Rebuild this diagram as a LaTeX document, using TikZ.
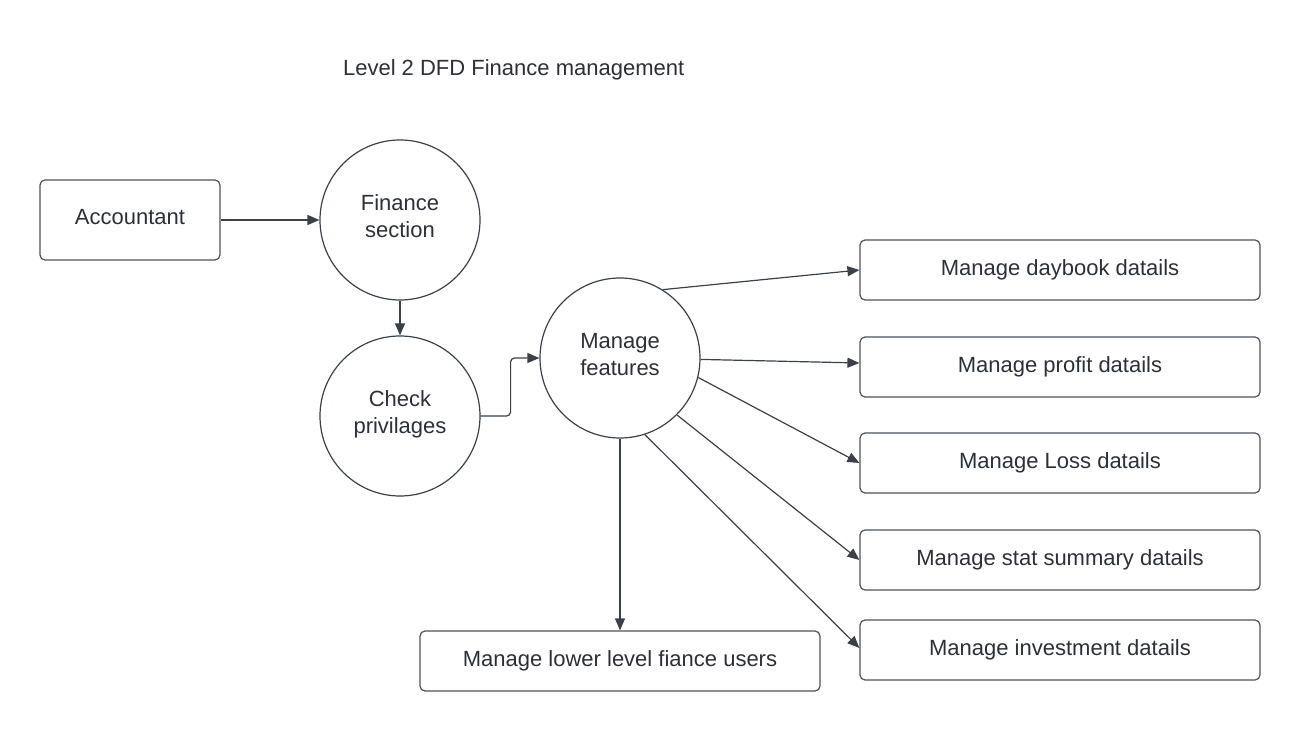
\documentclass[tikz,border=0pt]{standalone}
\usepackage{fontspec}
\setmainfont{Liberation Sans}
\usetikzlibrary{arrows.meta}
\definecolor{txt}{HTML}{2B3039}
\definecolor{ln}{HTML}{3A414A}
\definecolor{bx}{HTML}{4E535B}
\tikzset{
  lbl/.style={text=txt,font=\fontsize{11}{13.5}\selectfont,align=center},
  box/.style={lbl,draw=bx,line width=0.6pt,rounded corners=2.5pt,inner sep=0pt},
  smallbox/.style={box,minimum width=90pt,minimum height=40pt,text depth=3pt},
  widebox/.style={box,minimum width=200pt,minimum height=30pt},
  proc/.style={lbl,draw=ln,line width=0.6pt,circle,minimum size=80pt,inner sep=0pt,text depth=3.5pt},
  flow/.style={draw=ln,line width=0.6pt,-{Triangle[length=6pt,width=5pt]}}
}
\begin{document}
\begin{tikzpicture}[x=0.5pt,y=-0.5pt]
\fill[white] (0,0) rectangle (1300,731);
\useasboundingbox (0,0) rectangle (1300,731);
\node[lbl,anchor=west] (title) at (336,70) {Level 2 DFD Finance management};
\node[smallbox] (acc) at (130,220) {Accountant};
\node[proc] (fs) at (400,220) {Finance\\section};
\node[proc] (cp) at (400,416) {Check\\privilages};
\node[proc] (mf) at (620,358) {Manage\\features};
\node[widebox] (d1) at (1060,270) {Manage daybook datails};
\node[widebox] (d2) at (1060,367) {Manage profit datails};
\node[widebox] (d3) at (1060,463) {Manage Loss datails};
\node[widebox] (d4) at (1060,560) {Manage stat summary datails};
\node[widebox] (d5) at (1060,650) {Manage investment datails};
\node[widebox] (lo) at (620,661) {Manage lower level fiance users};
\draw[flow] (acc.east) -- (fs.west);
\draw[flow] (fs.south) -- (cp.north);
\draw[flow,rounded corners=2pt] (cp.east) -- ++(30,0) |- (mf.west);
\draw[flow] (mf.58) -- (d1.west);
\draw[flow] (mf.-1) -- ([yshift=2pt]d2.west);
\draw[flow] (mf.-14.6) -- (d3.west);
\draw[flow] (mf.-45) -- (d4.west);
\draw[flow] (mf.-72) -- ([yshift=1pt]d5.west);
\draw[flow] (mf.south) -- (lo.north);
\end{tikzpicture}
\end{document}
